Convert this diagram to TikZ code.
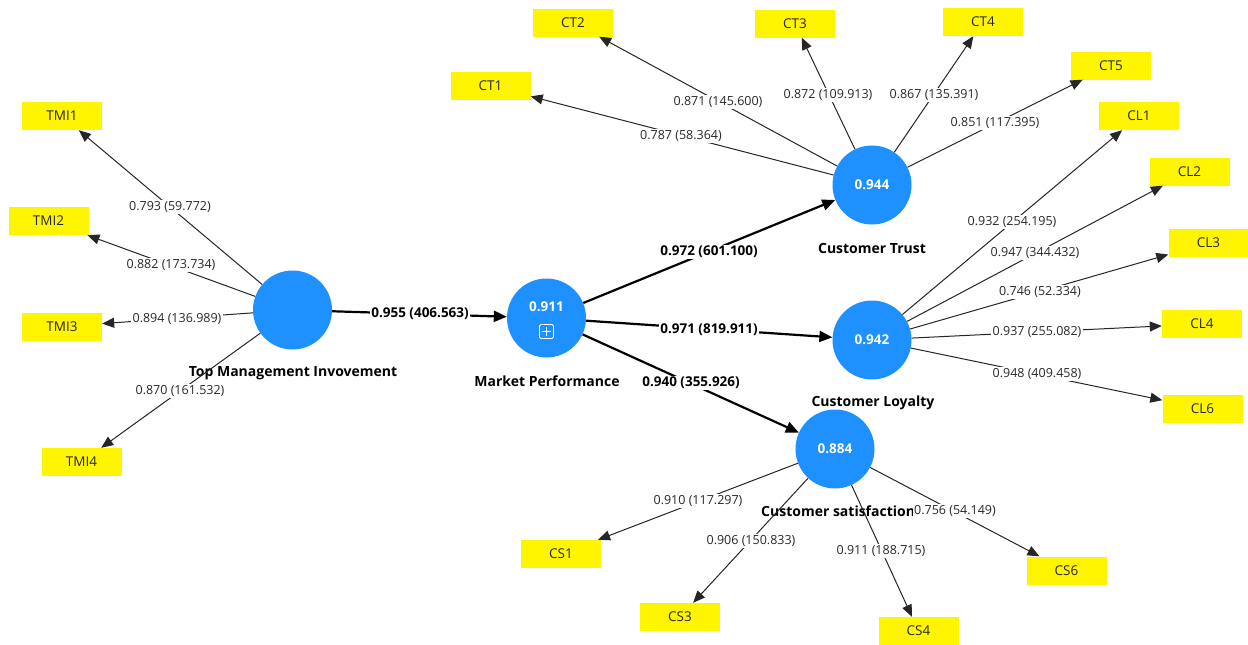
\documentclass[tikz,border=0pt]{standalone}
\usepackage{fontspec}
\setmainfont{Open Sans}
\usetikzlibrary{arrows.meta}
\definecolor{lvblue}{RGB}{30,144,255}
\definecolor{boxyel}{RGB}{255,245,0}
\definecolor{txtgray}{RGB}{40,40,40}
\begin{document}
\begin{tikzpicture}[x=1pt,y=-1pt,
  lv/.style={circle,fill=lvblue,minimum size=79pt,inner sep=0pt,text=white,font=\fontsize{13.5}{15}\selectfont\bfseries},
  ctxt/.style={text=white,inner sep=0pt,font=\fontsize{13.5}{15}\selectfont\bfseries},
  ind/.style={rectangle,fill=boxyel,minimum width=80pt,minimum height=28pt,inner sep=0pt,text=txtgray,font=\fontsize{13.5}{15}\selectfont},
  meas/.style={draw=black!85,line width=1pt,-{Triangle[length=12pt,width=10pt]}},
  struct/.style={draw=black,line width=2.2pt,-{Triangle[length=13pt,width=11pt]}},
  lab/.style={fill=white,inner sep=1.2pt,text=txtgray,font=\fontsize{12.5}{14}\selectfont},
  blab/.style={fill=white,inner sep=1.2pt,text=black,font=\fontsize{13.5}{15}\selectfont\bfseries},
  lvname/.style={text=black,inner sep=1pt,font=\fontsize{14}{16}\selectfont\bfseries},
]
\useasboundingbox[fill=white] (0,0) rectangle (1248,645);

% latent variables
\node[lv] (TMI) at (292.5,310) {};
\node[lv] (MP)  at (546.5,318) {};
\node[lv] (CT)  at (872,185) {0.944};
\node[lv] (CL)  at (872,340) {0.942};
\node[lv] (CS)  at (835,449) {0.884};
\node[ctxt] at (546.5,307) {0.911};
\draw[white,line width=0.9pt,rounded corners=1.5pt] (539.5,324.5) rectangle (553.5,338.5);
\draw[white,line width=0.9pt] (546.5,327) -- (546.5,336) (542,331.5) -- (551,331.5);

% indicators
\node[ind] (TMI1) at (62,116) {TMI1};
\node[ind] (TMI2) at (48.5,221) {TMI2};
\node[ind] (TMI3) at (62,326.5) {TMI3};
\node[ind] (TMI4) at (81.5,462) {TMI4};
\node[ind] (CT1) at (490.5,86) {CT1};
\node[ind] (CT2) at (573,22.5) {CT2};
\node[ind] (CT3) at (795,23.5) {CT3};
\node[ind] (CT4) at (983,22) {CT4};
\node[ind] (CT5) at (1111,65.5) {CT5};
\node[ind] (CL1) at (1139,116) {CL1};
\node[ind] (CL2) at (1189.5,171.5) {CL2};
\node[ind] (CL3) at (1208.5,243) {CL3};
\node[ind] (CL4) at (1202,324) {CL4};
\node[ind] (CL6) at (1202.5,408.5) {CL6};
\node[ind] (CS1) at (561,554) {CS1};
\node[ind] (CS3) at (680,617) {CS3};
\node[ind] (CS4) at (918.5,631) {CS4};
\node[ind] (CS6) at (1066.5,570.5) {CS6};

% latent variable names
\node[lvname] at (293,373) {Top Management Invovement};
\node[lvname] at (547,381) {Market Performance};
\node[lvname] at (872,248) {Customer Trust};
\node[lvname] at (873,403) {Customer Loyalty};
\node[lvname,anchor=west] at (760,511) {Customer satisfaction};

% outer loadings
\draw[meas] (TMI) -- (TMI1);
\draw[meas] (TMI) -- (TMI2);
\draw[meas] (TMI) -- (TMI3);
\draw[meas] (TMI) -- (TMI4);
\draw[meas] (CT) -- (CT1);
\draw[meas] (CT) -- (CT2);
\draw[meas] (CT) -- (CT3);
\draw[meas] (CT) -- (CT4);
\draw[meas] (CT) -- (CT5);
\draw[meas] (CL) -- (CL1);
\draw[meas] (CL) -- (CL2);
\draw[meas] (CL) -- (CL3);
\draw[meas] (CL) -- (CL4);
\draw[meas] (CL) -- (CL6);
\draw[meas] (CS) -- (CS1);
\draw[meas] (CS) -- (CS3);
\draw[meas] (CS) -- (CS4);
\draw[meas] (CS) -- (CS6);

% structural paths
\draw[struct] (TMI) -- (MP);
\draw[struct] (MP) -- (CT);
\draw[struct] (MP) -- (CL);
\draw[struct] (MP) -- (CS);

% labels
\node[lab] at (170,207) {0.793 (59.772)};
\node[lab] at (171,265) {0.882 (173.734)};
\node[lab] at (177,319) {0.894 (136.989)};
\node[lab] at (180,391) {0.870 (161.532)};
\node[lab] at (681,136) {0.787 (58.364)};
\node[lab] at (718,102) {0.871 (145.600)};
\node[lab] at (828,95) {0.872 (109.913)};
\node[lab] at (934,95) {0.867 (135.391)};
\node[lab] at (995,123) {0.851 (117.395)};
\node[lab] at (1012,222) {0.932 (254.195)};
\node[lab] at (1035,253) {0.947 (344.432)};
\node[lab] at (1040,292) {0.746 (52.334)};
\node[lab] at (1037,332) {0.937 (255.082)};
\node[lab] at (1037,374) {0.948 (409.458)};
\node[lab] at (698,501) {0.910 (117.297)};
\node[lab] at (751,541) {0.906 (150.833)};
\node[lab] at (881,551) {0.911 (188.715)};
\node[lab] at (955,511) {0.756 (54.149)};
\node[blab] at (420,314) {0.955 (406.563)};
\node[blab] at (709,252) {0.972 (601.100)};
\node[blab] at (709,330) {0.971 (819.911)};
\node[blab] at (691,383) {0.940 (355.926)};
\end{tikzpicture}
\end{document}
